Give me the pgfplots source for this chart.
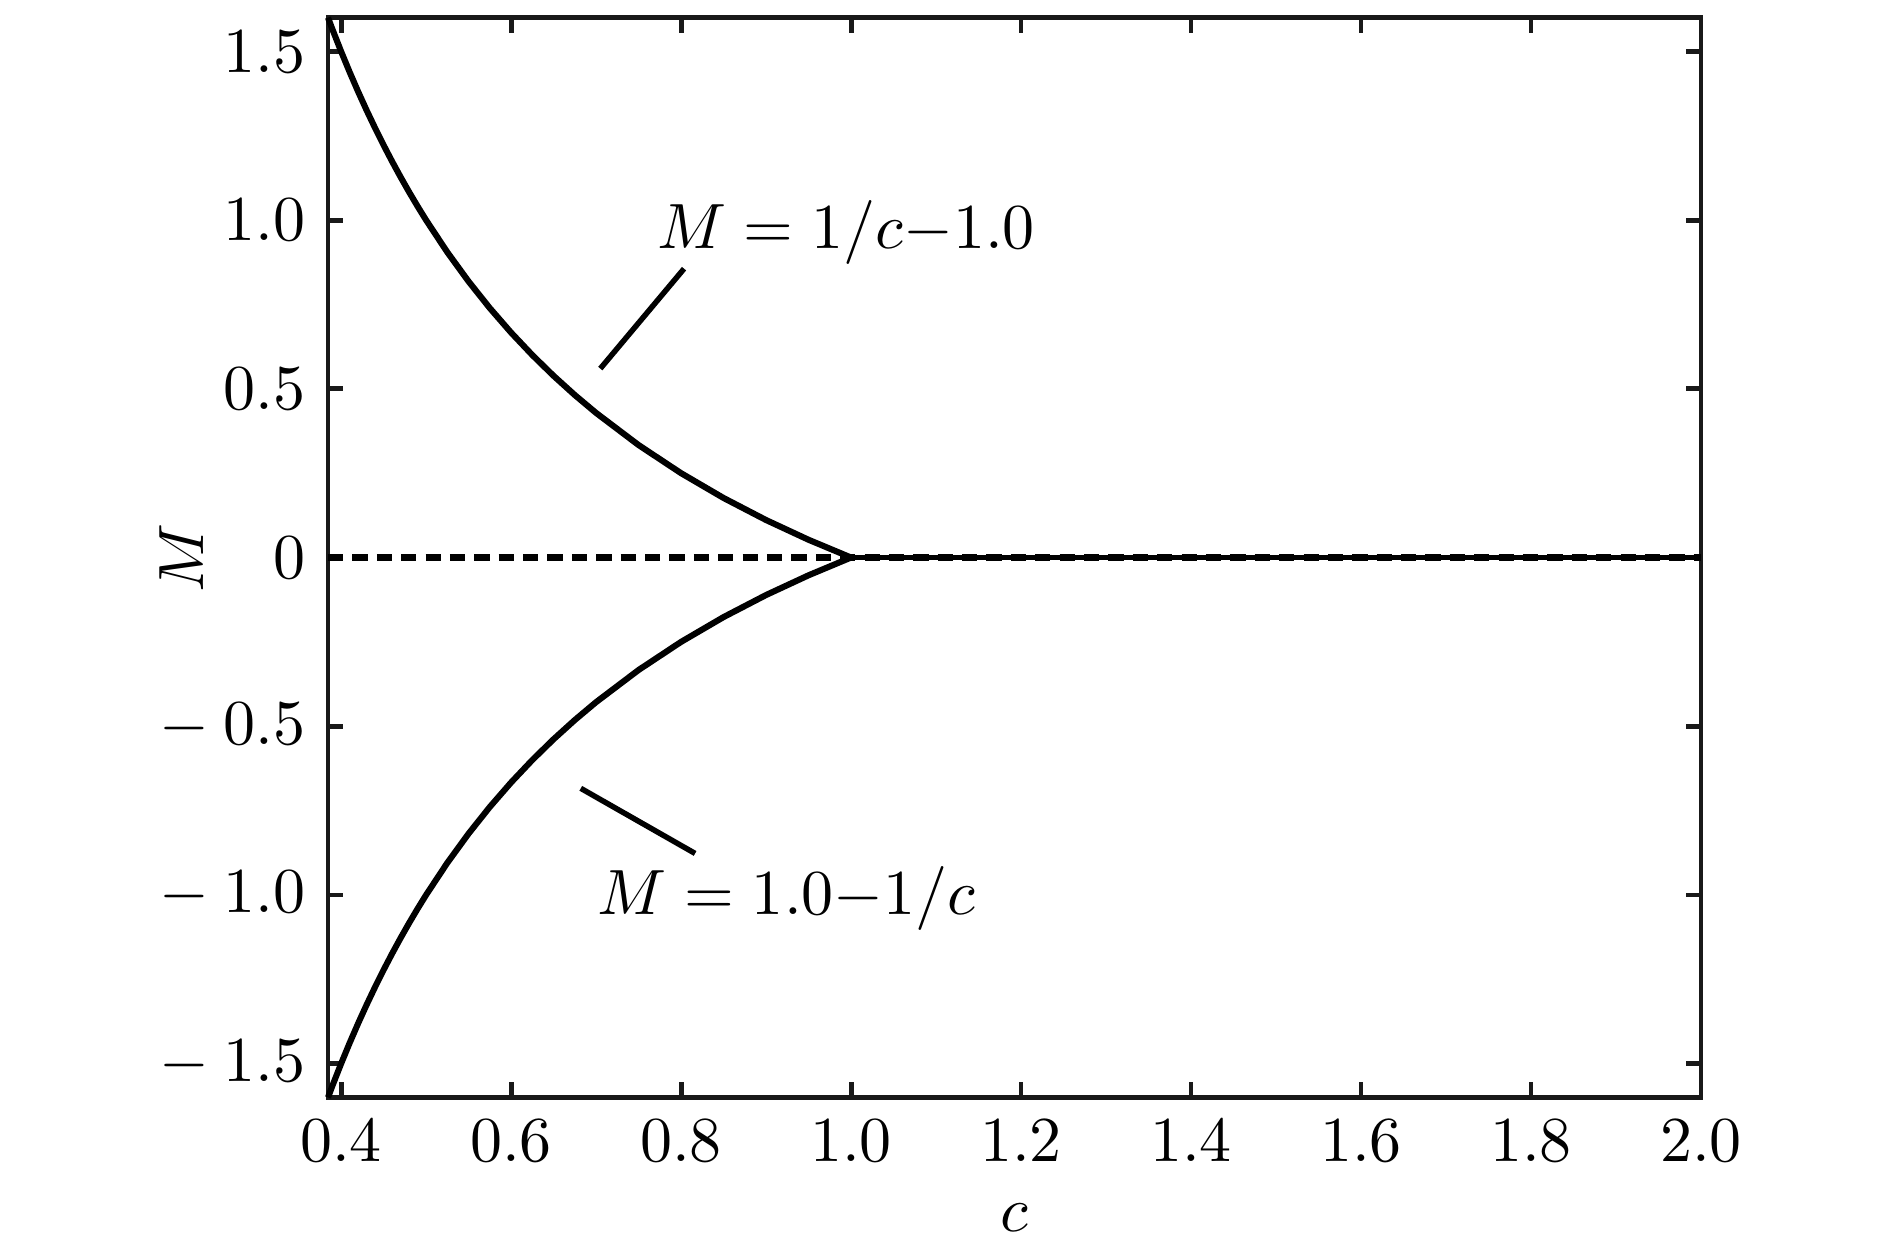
\documentclass[border=0pt]{standalone}
\usepackage{pgfplots}
\pgfplotsset{compat=1.18}
\begin{document}
\begin{tikzpicture}
\path[use as bounding box] (0,0) rectangle (310pt,205.4pt);
\begin{axis}[
  at={(53.8pt,25.4pt)}, anchor=south west,
  width=225.2pt, height=177.1pt, scale only axis,
  xmin=0.3846, xmax=2.0, ymin=-1.6, ymax=1.6,
  xtick={0.4,0.6,0.8,1.0,1.2,1.4,1.6,1.8,2.0},
  xticklabels={$0.4$,$0.6$,$0.8$,$1.0$,$1.2$,$1.4$,$1.6$,$1.8$,$2.0$},
  ytick={-1.5,-1,-0.5,0,0.5,1,1.5},
  yticklabels={$-\:1.5$,$-\:1.0$,$-\:0.5$,$0$,$0.5$,$1.0$,$1.5$},
  every tick label/.append style={scale=1.05},
  tick align=inside, major tick length=2.5pt,
  axis line style={line width=0.8pt, black!90},
  every tick/.style={line width=0.8pt, black!90},
  xlabel={$c$}, ylabel={$M$},
  xlabel style={at={(axis description cs:0.5,0)}, anchor=center, yshift=-19.7pt, scale=1.05},
  ylabel style={at={(axis description cs:0,0.5)}, anchor=center, rotate=0, yshift=24pt, scale=1.05},
  clip=false,
]
% solid zero line for c>1
\addplot[black, line width=0.9pt] coordinates {(1.0,0) (2.0,0)};
% dashed zero line
\addplot[black, line width=1.2pt, dash pattern=on 2.5pt off 1.5pt] coordinates {(0.3846,0) (2.0,0)};
% M = 1/c - 1
\addplot[black, line width=1pt] coordinates {
(0.3846,1.6001) (0.39,1.5641) (0.40,1.5) (0.41,1.43902) (0.42,1.38095) (0.43,1.32558)
(0.44,1.27273) (0.45,1.22222) (0.46,1.17391) (0.47,1.12766) (0.48,1.08333) (0.49,1.04082)
(0.50,1.0) (0.525,0.90476) (0.55,0.81818) (0.575,0.73913) (0.60,0.66667) (0.625,0.6)
(0.65,0.53846) (0.675,0.48148) (0.70,0.42857) (0.75,0.33333) (0.80,0.25) (0.85,0.17647)
(0.90,0.11111) (0.95,0.05263) (1.00,0)};
% M = 1 - 1/c
\addplot[black, line width=1pt] coordinates {
(0.3846,-1.6001) (0.39,-1.5641) (0.40,-1.5) (0.41,-1.43902) (0.42,-1.38095) (0.43,-1.32558)
(0.44,-1.27273) (0.45,-1.22222) (0.46,-1.17391) (0.47,-1.12766) (0.48,-1.08333) (0.49,-1.04082)
(0.50,-1.0) (0.525,-0.90476) (0.55,-0.81818) (0.575,-0.73913) (0.60,-0.66667) (0.625,-0.6)
(0.65,-0.53846) (0.675,-0.48148) (0.70,-0.42857) (0.75,-0.33333) (0.80,-0.25) (0.85,-0.17647)
(0.90,-0.11111) (0.95,-0.05263) (1.00,0)};
% leader lines
\addplot[black, line width=0.9pt] coordinates {(0.705,0.560) (0.8035,0.856)};
\addplot[black, line width=0.9pt] coordinates {(0.682,-0.684) (0.8165,-0.877)};
\node[anchor=base, scale=1.05] at (axis cs:0.994,0.915) {$M = 1/c{-}1.0$};
\node[anchor=base, scale=1.05] at (axis cs:0.924,-1.057) {$M = 1.0{-}1/c$};
\end{axis}
\end{tikzpicture}
\end{document}
